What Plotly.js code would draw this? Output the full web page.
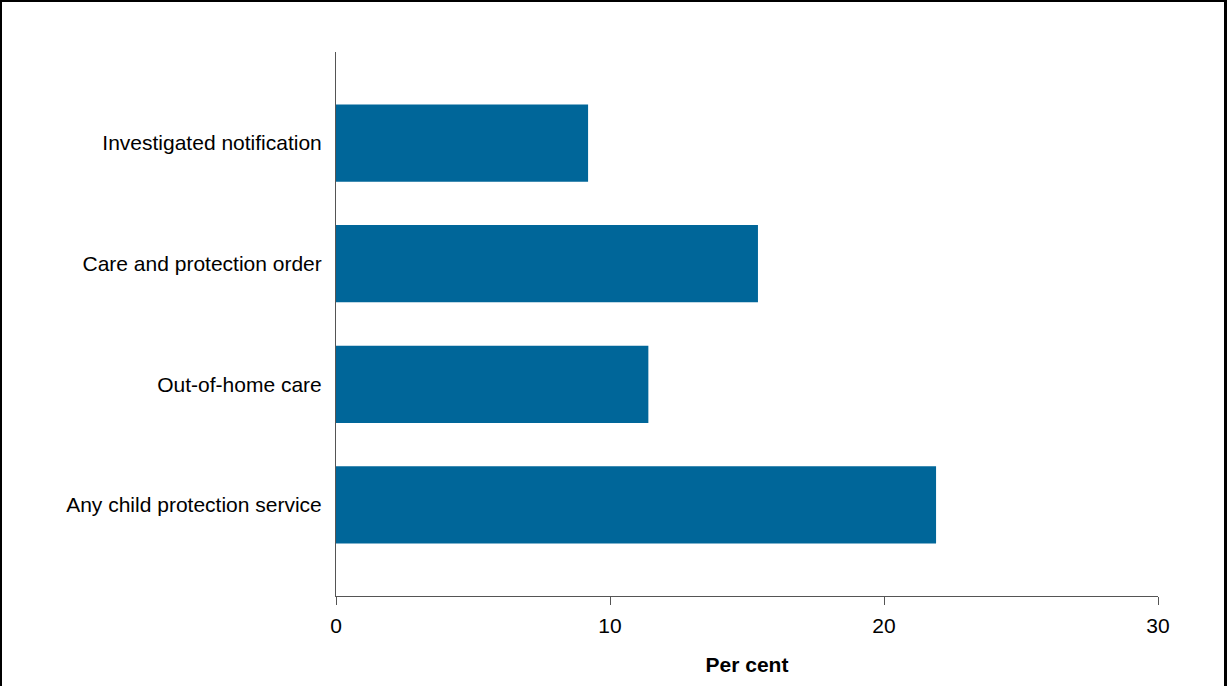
<!DOCTYPE html>
<html>
<head>
<meta charset="utf-8">
<script src="https://cdn.plot.ly/plotly-3.0.1.min.js"></script>
<style>
html,body{margin:0;padding:0;background:#fff;}
#frame{position:absolute;left:0;top:0;width:1227px;height:700px;box-sizing:border-box;border-top:2px solid #000;border-left:2px solid #000;border-right:3px solid #000;}
#chart{position:absolute;left:0;top:0;width:1227px;height:686px;}
</style>
</head>
<body>
<div id="chart"></div>
<div id="frame"></div>
<script>
const categories = ["Any child protection service", "Out-of-home care", "Care and protection order", "Investigated notification"];
const values = [21.9, 11.4, 15.4, 9.2];
const xTickVals = [0, 10, 20, 30];

const trace = {
  type: 'bar',
  orientation: 'h',
  y: categories,
  x: values,
  marker: {color: '#006699'},
  width: 0.64,
  hoverinfo: 'x+y'
};

const layout = {
  width: 1227,
  height: 686,
  margin: {l: 336, r: 69, t: 52, b: 90},
  paper_bgcolor: '#ffffff',
  plot_bgcolor: '#ffffff',
  showlegend: false,
  font: {family: 'Liberation Sans, Arial, sans-serif', size: 21, color: '#000'},
  xaxis: {
    range: [0, 30],
    tickvals: xTickVals,
    ticktext: xTickVals.map(String),
    ticks: 'outside',
    ticklen: 8,
    tickwidth: 1,
    tickcolor: '#555',
    showline: true,
    linecolor: '#555',
    linewidth: 1,
    showgrid: false,
    zeroline: false,
    ticklabelstandoff: 3,
    tickfont: {size: 21, color: '#000'},
    title: {text: '<b>Per cent</b>', font: {size: 21, color: '#000'}, standoff: 21}
  },
  yaxis: {
    type: 'category',
    range: [-0.755, 3.755],
    showline: true,
    linecolor: '#555',
    linewidth: 1,
    ticks: '',
    showgrid: false,
    zeroline: false,
    ticklabelstandoff: 9,
    tickfont: {size: 21, color: '#000'}
  }
};

Plotly.newPlot('chart', [trace], layout, {displayModeBar: false, staticPlot: true});
</script>
</body>
</html>
